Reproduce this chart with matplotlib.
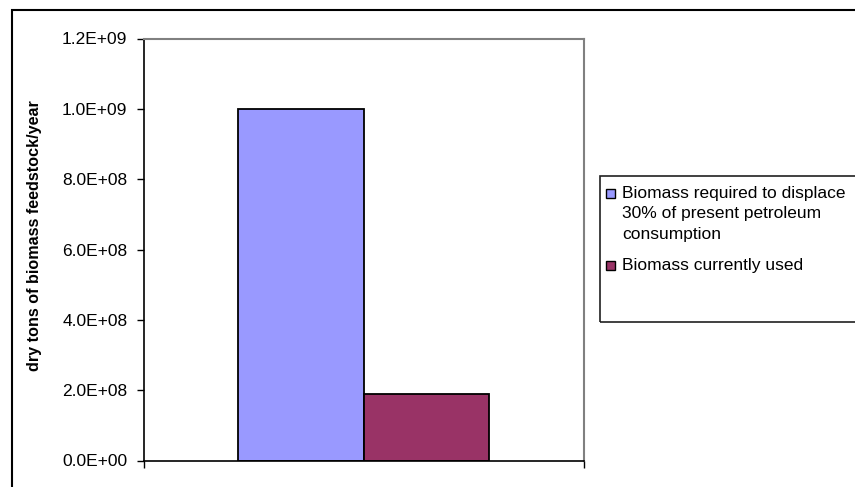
import matplotlib.pyplot as plt
from matplotlib.patches import Rectangle
from matplotlib.ticker import FuncFormatter, MultipleLocator

plt.rcParams['font.family'] = ['Liberation Sans', 'DejaVu Sans']

# Biomass feedstock (dry tons per year)
series_labels = ['Biomass required to displace\n30% of present petroleum\nconsumption',
                 'Biomass currently used']
series_values = [1.0e9, 1.9e8]
series_colors = ['#9999FF', '#993366']

W, H = 855, 487
fig = plt.figure(figsize=(W / 100, H / 100), dpi=100)
ax = fig.add_axes([144 / W, 1 - 460.5 / H, 439.5 / W, 422 / H])

# one category, bars placed side by side
bar_w = 0.285
for i, (val, col) in enumerate(zip(series_values, series_colors)):
    ax.bar((i - 0.5) * bar_w, val, width=bar_w, color=col,
           edgecolor='black', linewidth=1.3, zorder=3)

ax.set_xlim(-0.5, 0.5)
ax.set_ylim(0, 1.2e9)
ax.yaxis.set_major_locator(MultipleLocator(2e8))
ax.yaxis.set_major_formatter(FuncFormatter(lambda v, p: f"{v:.1E}"))
ax.set_xticks([-0.5, 0.5])
ax.set_xticklabels([])
ax.tick_params(axis='y', direction='out', length=5, width=1, pad=7,
               labelsize=12.5, colors='black')
ax.tick_params(axis='x', direction='out', length=5, width=1)

for side in ['left', 'bottom']:
    ax.spines[side].set_color('black')
    ax.spines[side].set_linewidth(1.2)
for side in ['top', 'right']:
    ax.spines[side].set_color('#808080')
    ax.spines[side].set_linewidth(1.5)
ax.spines['bottom'].set_zorder(4)

fig.text(35 / W, 1 - 236 / H, 'dry tons of biomass feedstock/year',
         rotation=90, ha='center', va='center', fontsize=11.6, fontweight='bold')

# legend box, drawn by hand so the swatch sits on the first text line
fig.patches.append(Rectangle((600 / W, 1 - 322 / H), 300 / W, 146.5 / H,
                             transform=fig.transFigure, fill=False,
                             edgecolor='#202020', linewidth=1.2))
entry_tops = [186, 258]
for top, lab, col in zip(entry_tops, series_labels, series_colors):
    fig.patches.append(Rectangle((606 / W, 1 - (top + 12) / H), 9 / W, 9 / H,
                                 transform=fig.transFigure, facecolor=col,
                                 edgecolor='black', linewidth=1))
    fig.text(622 / W, 1 - top / H, lab, ha='left', va='top',
             fontsize=12.5, linespacing=1.45)

# outer chart border
fig.patches.append(Rectangle((12 / W, -0.05), 1.0, 1 - 10 / H + 0.05,
                             transform=fig.transFigure, fill=False,
                             edgecolor='black', linewidth=1.5))

fig.savefig('out.png', dpi=100)
